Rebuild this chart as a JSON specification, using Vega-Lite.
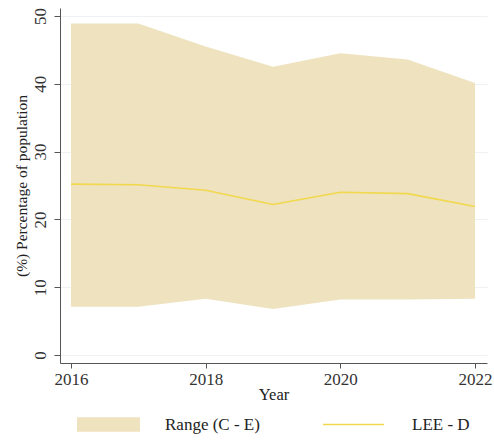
{
  "$schema": "https://vega.github.io/schema/vega-lite/v6.json",
  "width": 427,
  "height": 355,
  "autosize": "none",
  "padding": {"left": 60, "top": 8, "right": 7, "bottom": 77},
  "background": "white",
  "config": {
    "view": {"stroke": null},
    "font": "Liberation Serif, Times New Roman, serif",
    "axis": {
      "domainColor": "#555555",
      "tickColor": "#555555",
      "labelColor": "#333333",
      "titleColor": "#222222",
      "labelFont": "Liberation Serif, Times New Roman, serif",
      "titleFont": "Liberation Serif, Times New Roman, serif",
      "labelFontSize": 17,
      "titleFontSize": 16,
      "titleFontWeight": "normal"
    }
  },
  "data": {
    "values": [
      {"year": 2016, "low": 7.1, "high": 48.9, "lee": 25.2},
      {"year": 2017, "low": 7.1, "high": 48.9, "lee": 25.1},
      {"year": 2018, "low": 8.3, "high": 45.5, "lee": 24.3},
      {"year": 2019, "low": 6.8, "high": 42.5, "lee": 22.2},
      {"year": 2020, "low": 8.2, "high": 44.5, "lee": 24.0},
      {"year": 2021, "low": 8.2, "high": 43.6, "lee": 23.8},
      {"year": 2022, "low": 8.3, "high": 40.1, "lee": 21.9}
    ]
  },
  "layer": [
    {
      "mark": {"type": "area", "opacity": 1},
      "encoding": {
        "x": {
          "field": "year",
          "type": "quantitative",
          "scale": {"domain": [2015.837, 2022.178], "nice": false, "zero": false},
          "axis": {
            "values": [2016, 2018, 2020, 2022],
            "format": "d",
            "title": "Year",
            "titleFontSize": 16.5,
            "grid": false,
            "tickSize": 5,
            "labelPadding": 3,
            "titlePadding": -1,
            "labelFlush": false
          }
        },
        "y": {
          "field": "high",
          "type": "quantitative",
          "scale": {"domain": [-1.18, 51.18], "nice": false, "zero": false},
          "axis": {
            "values": [0, 10, 20, 30, 40, 50],
            "title": "(%) Percentage of population",
            "titleFontSize": 15.5,
            "grid": true,
            "gridColor": "#eef1f3",
            "labelAngle": 270,
            "tickSize": 6,
            "labelPadding": 5,
            "titlePadding": 2
          }
        },
        "y2": {"field": "low"},
        "fill": {
          "datum": "Range (C - E)",
          "scale": {"range": ["#eee2bf"]},
          "legend": {
            "title": null,
            "orient": "none",
            "legendX": 17,
            "legendY": 385,
            "symbolType": "M-1,-0.23H1V0.23H-1Z",
            "symbolSize": 3969,
            "symbolStrokeWidth": 0,
            "symbolOpacity": 1,
            "labelOffset": 25,
            "labelFont": "Liberation Serif, Times New Roman, serif",
            "labelFontSize": 17,
            "labelColor": "#222222"
          }
        }
      }
    },
    {
      "mark": {"type": "line", "strokeWidth": 1.6},
      "encoding": {
        "x": {"field": "year", "type": "quantitative"},
        "y": {"field": "lee", "type": "quantitative"},
        "stroke": {
          "datum": "LEE - D",
          "scale": {"range": ["#f1d84c"]},
          "legend": {
            "title": null,
            "orient": "none",
            "legendX": 262,
            "legendY": 385,
            "symbolType": "M-1,0H1",
            "symbolSize": 3721,
            "symbolStrokeWidth": 1.6,
            "labelOffset": 27,
            "labelFont": "Liberation Serif, Times New Roman, serif",
            "labelFontSize": 17,
            "labelColor": "#222222"
          }
        }
      }
    }
  ]
}
